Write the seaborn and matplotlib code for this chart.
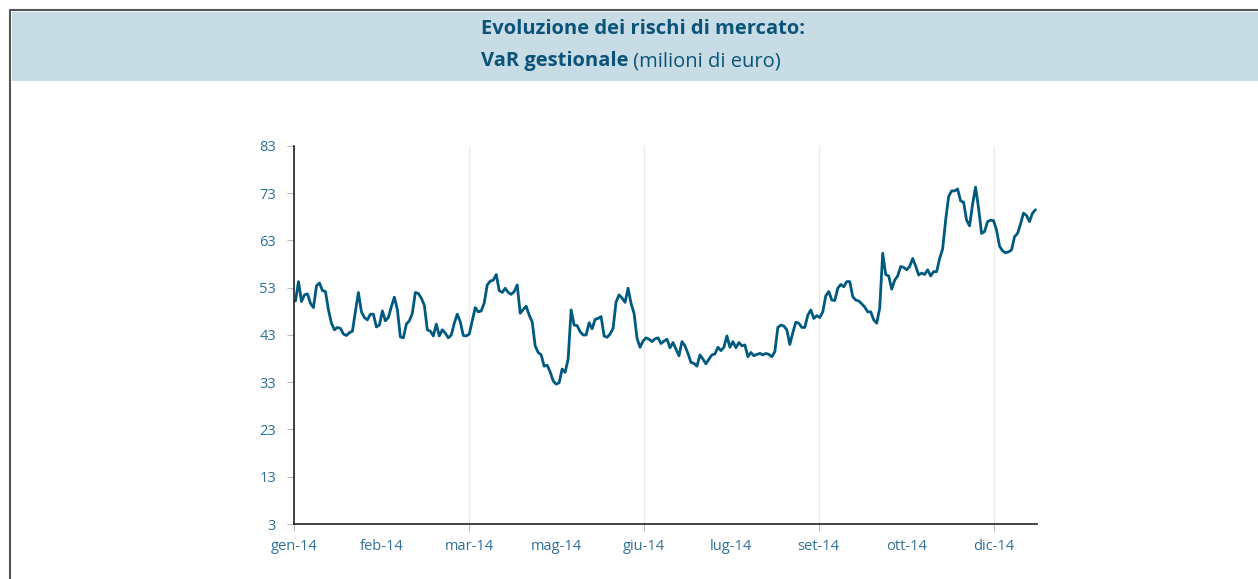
import numpy as np
import pandas as pd
import matplotlib
matplotlib.use("Agg")
import matplotlib.pyplot as plt
import seaborn as sns
from matplotlib.patches import Rectangle
from matplotlib.lines import Line2D

# ---- data (VaR gestionale, milioni di euro) ----
var_values = [
    50.2, 54.3, 50.1, 51.5, 51.7, 49.7, 48.8, 53.4, 54.0, 52.4, 52.2, 48.3, 45.5, 44.1, 44.6, 44.4,
    43.2, 42.9, 43.5, 43.8, 48.0, 52.0, 47.9, 46.7, 46.2, 47.4, 47.4, 44.7, 45.1, 48.1, 46.0, 46.7,
    49.0, 51.0, 48.4, 42.6, 42.4, 45.3, 46.0, 47.6, 52.0,
    51.8, 50.8, 49.3, 44.1, 43.8, 42.8, 45.3, 42.8, 44.1, 43.4, 42.4, 43.0, 45.5, 47.4, 45.8, 42.9,
    42.8, 43.2, 46.0, 48.8, 47.9, 48.1, 49.8, 53.6, 54.4, 54.6, 55.8, 52.4, 52.0, 52.9, 52.0, 51.6,
    52.2, 53.6, 47.6, 48.4, 49.1, 47.2, 45.8, 40.7, 39.3, 38.8,
    36.4, 36.6, 35.2, 33.3, 32.6, 32.9, 35.8, 35.1, 37.9, 48.3, 45.1, 45.0, 43.7, 43.0, 43.0, 45.6,
    44.3, 46.3, 46.5, 46.9, 42.8, 42.5, 43.2, 44.4, 50.0, 51.5, 50.8, 49.9, 52.9, 49.7, 47.6, 42.3,
    40.4, 41.7, 42.4, 42.1, 41.6, 42.2, 42.4, 41.2, 41.7, 42.1,
    40.3, 41.4, 40.0, 38.6, 41.6, 40.7, 39.1, 37.2, 37.0, 36.4, 38.8, 37.9, 36.9, 37.9, 38.8, 39.0,
    40.4, 39.7, 40.4, 42.8, 40.4, 41.6, 40.3, 41.4, 40.7, 40.9, 38.4, 39.3, 38.6, 38.9, 39.1, 38.8,
    39.1, 38.9, 38.4, 39.5, 44.6, 45.1, 44.9, 44.1, 41.0,
    43.5, 45.7, 45.5, 44.6, 44.6, 47.2, 48.3, 46.5, 47.1, 46.7, 47.9, 51.3, 52.2, 50.4, 50.3, 52.9,
    53.7, 53.2, 54.3, 54.3, 51.1, 50.4, 50.2, 49.6, 48.9, 47.9, 47.9, 46.2, 45.5, 48.7, 60.3, 55.8,
    55.5, 52.7, 54.6, 55.5, 57.5, 57.3, 56.8, 57.5, 59.2,
    57.6, 55.7, 56.1, 55.8, 56.8, 55.5, 56.4, 56.4, 59.2, 61.2, 67.3, 72.3, 73.5, 73.5, 73.9, 71.4,
    71.1, 67.3, 66.1, 70.7, 74.3, 69.8, 64.5, 64.9, 67.0, 67.3, 67.2, 65.2, 61.8, 60.8, 60.4, 60.6,
    61.0, 63.8, 64.5, 66.5, 68.8, 68.3, 67.0, 68.8, 69.5,
]
month_labels = ["gen-14", "feb-14", "mar-14", "mag-14", "giu-14", "lug-14", "set-14", "ott-14", "dic-14"]
y_ticks = [3, 13, 23, 33, 43, 53, 63, 73, 83]

title_line1 = "Evoluzione dei rischi di mercato:"
title_bold2 = "VaR gestionale"
title_reg2 = " (milioni di euro)"

LINE_C = "#005A80"
TEXT_C = "#2F7097"
TITLE_C = "#0B5478"
BAND_C = "#C8DCE6"

n = len(var_values)
df = pd.DataFrame({"idx": np.arange(n) + 0.5, "var": var_values})

sns.set_theme(style="white")
plt.rcParams["font.family"] = ["Open Sans", "DejaVu Sans"]

W, H = 1258, 579
fig = plt.figure(figsize=(W / 100, H / 100), dpi=100)
fig.patch.set_facecolor("white")

# header band and frame
fig.patches.append(Rectangle((12 / W, 1 - 81 / H), 1 - 12 / W, (81 - 12) / H,
                             transform=fig.transFigure, facecolor=BAND_C, edgecolor="none", zorder=0))
fig.lines.append(Line2D([10 / W, 1], [1 - 10 / H, 1 - 10 / H], transform=fig.transFigure,
                        color="#555555", lw=1.5))
fig.lines.append(Line2D([10 / W, 10 / W], [0, 1 - 10 / H], transform=fig.transFigure,
                        color="#555555", lw=1.5))

ax = fig.add_axes([294 / W, 55 / H, (1037 - 294) / W, (524 - 146) / H])
sns.lineplot(data=df, x="idx", y="var", ax=ax, color=LINE_C, linewidth=2.0)

ax.set_xlim(0, n)
ax.set_ylim(3, 83)
ax.set_yticks(y_ticks)
ax.set_yticklabels([str(v) for v in y_ticks])

step = n * 0.1177
pos = [k * step for k in range(len(month_labels))]
ax.set_xticks(pos[0::2], month_labels[0::2])
ax.set_xticks(pos[1::2], month_labels[1::2], minor=True)

ax.tick_params(axis="x", which="major", length=5, width=0.8, color="#BBBBBB",
               labelcolor=TEXT_C, labelsize=10.5, pad=6, bottom=True)
ax.tick_params(axis="x", which="minor", length=0, labelcolor=TEXT_C, labelsize=10.5, pad=11, bottom=True)
ax.tick_params(axis="y", length=5, width=0.8, color="#BBBBBB", labelcolor=TEXT_C,
               labelsize=10.5, pad=8, left=True)

ax.grid(False)
ax.xaxis.grid(True, which="major", color="#EBEBEB", linewidth=0.9)
ax.set_axisbelow(True)
for s in ["top", "right"]:
    ax.spines[s].set_visible(False)
for s in ["left", "bottom"]:
    ax.spines[s].set_color("#222222")
    ax.spines[s].set_linewidth(1.2)
ax.set_xlabel("")
ax.set_ylabel("")

# titles
x0 = 481 / W
FS = 14.5
fig.text(x0, 1 - 29 / H, title_line1, ha="left", va="center", fontsize=FS,
         fontweight="bold", color=TITLE_C)
t_b = fig.text(x0, 1 - 61 / H, title_bold2, ha="left", va="center", fontsize=FS,
               fontweight="bold", color=TITLE_C)
fig.canvas.draw()
bb = t_b.get_window_extent(renderer=fig.canvas.get_renderer())
fig.text(bb.x1 / W, 1 - 61 / H, title_reg2, ha="left", va="center", fontsize=FS,
         color=TITLE_C)

fig.savefig("out.png", dpi=100)
